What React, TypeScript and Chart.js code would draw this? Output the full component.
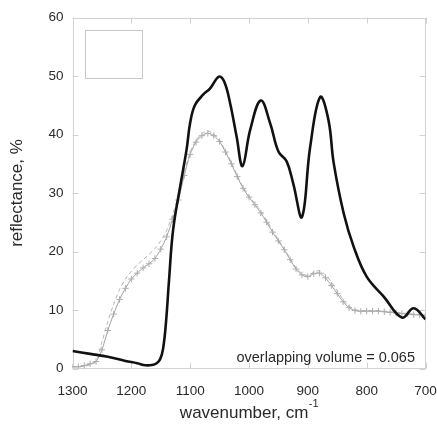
import React, { useEffect, useRef } from "react";
import { Chart, registerables } from "chart.js";

Chart.register(...registerables);

// tick values
const xTicks = [1300, 1200, 1100, 1000, 900, 800, 700];
const yTicks = [0, 10, 20, 30, 40, 50, 60];

// measured spectrum (black)
const measuredWn = [1300, 1270, 1240, 1210, 1190, 1176, 1165, 1157, 1151, 1146, 1141, 1136, 1129, 1117, 1106, 1100, 1092, 1078, 1066, 1051, 1042, 1032, 1021, 1011, 998, 980, 964, 950, 936, 925, 910, 896, 879, 865, 856, 839, 822, 800, 771, 740, 720, 700];
const measuredR = [3.0, 2.5, 2.0, 1.3, 0.9, 0.55, 0.6, 0.9, 1.6, 3.4, 8.0, 15.0, 23.7, 31.1, 37.5, 42.0, 45.0, 46.8, 47.9, 49.9, 49.0, 45.3, 39.6, 34.6, 40.8, 45.8, 41.9, 37.1, 35.4, 31.7, 25.9, 37.9, 46.4, 42.5, 35.1, 26.5, 20.8, 15.7, 12.3, 8.7, 10.3, 8.4];

// calculated spectra (grey)
const calcWn = [1300, 1290, 1280, 1270, 1260, 1250, 1240, 1230, 1220, 1210, 1200, 1190, 1180, 1170, 1160, 1150, 1140, 1130, 1120, 1110, 1100, 1090, 1080, 1070, 1060, 1050, 1040, 1030, 1020, 1010, 1000, 990, 980, 970, 960, 950, 940, 930, 920, 910, 900, 890, 880, 870, 860, 850, 840, 830, 820, 810, 800, 790, 780, 770, 760, 750, 740, 730, 720, 710, 700];
const calcSolid = [0.3, 0.3, 0.5, 0.8, 1.2, 3.2, 6.5, 9.3, 11.8, 13.7, 15.3, 16.3, 17.2, 17.9, 18.8, 20.4, 22.5, 25.5, 28.8, 33.0, 36.6, 38.7, 39.8, 40.2, 39.8, 38.8, 37.0, 35.0, 32.8, 30.8, 29.3, 28.0, 26.6, 25.0, 23.3, 21.8, 20.3, 18.6, 17.0, 16.0, 15.7, 16.2, 16.3, 15.5, 14.2, 12.8, 11.4, 10.4, 9.9, 9.8, 9.8, 9.8, 9.8, 9.7, 9.6, 9.5, 9.4, 9.3, 9.2, 9.2, 9.1];
const calcDashed = [0.3, 0.3, 0.4, 0.6, 1.2, 4.5, 8.0, 11.0, 13.5, 15.3, 16.6, 17.7, 18.6, 19.5, 20.5, 21.8, 23.6, 26.3, 29.5, 33.5, 37.0, 39.0, 40.2, 40.6, 40.1, 39.0, 37.2, 35.2, 33.0, 31.0, 29.5, 28.2, 26.9, 25.3, 23.6, 22.0, 20.4, 18.8, 17.2, 16.2, 15.9, 16.5, 16.7, 16.0, 14.8, 13.3, 11.8, 10.7, 10.1, 9.9, 9.9, 9.9, 9.9, 9.8, 9.7, 9.6, 9.5, 9.4, 9.3, 9.3, 9.3];

const annotation = "overlapping volume = 0.065";
const xTitle = "wavenumber, cm";
const xTitleSup = "-1";
const yTitle = "reflectance, %";

const FONT = "'Liberation Sans', Arial, Helvetica, sans-serif";
const TEXT = "#2a2a2a";

const framePlugin = {
  id: "frame",
  beforeDatasetsDraw(chart: any) {
    const { ctx, chartArea: a, scales } = chart;
    ctx.save();
    ctx.strokeStyle = "#d2d2d2";
    ctx.lineWidth = 1;
    ctx.strokeRect(Math.round(a.left) + 0.5, Math.round(a.top) + 0.5, Math.round(a.right - a.left) - 1, Math.round(a.bottom - a.top) - 1);
    const tl = 6;
    ctx.beginPath();
    scales.x.ticks.forEach((t: any) => {
      const px = Math.round(scales.x.getPixelForValue(t.value)) + 0.5;
      ctx.moveTo(px, a.bottom);
      ctx.lineTo(px, a.bottom - tl);
      ctx.moveTo(px, a.top);
      ctx.lineTo(px, a.top + tl);
    });
    scales.y.ticks.forEach((t: any) => {
      const py = Math.round(scales.y.getPixelForValue(t.value)) + 0.5;
      ctx.moveTo(a.left, py);
      ctx.lineTo(a.left + tl, py);
      ctx.moveTo(a.right, py);
      ctx.lineTo(a.right - tl, py);
    });
    ctx.stroke();
    // empty legend box
    ctx.strokeStyle = "#c8c8c8";
    ctx.strokeRect(Math.round(a.left + 12) + 0.5, Math.round(a.top + 12.5) + 0.5, 57, 48);
    ctx.restore();
  },
  afterDraw(chart: any) {
    const { ctx, chartArea: a } = chart;
    ctx.save();
    ctx.fillStyle = TEXT;
    ctx.font = `14.5px ${FONT}`;
    ctx.textAlign = "right";
    ctx.textBaseline = "middle";
    ctx.fillText(annotation, a.right - 10.5, a.bottom - 11);
    // x title with superscript
    ctx.font = `17px ${FONT}`;
    const w1 = ctx.measureText(xTitle).width;
    ctx.font = `11px ${FONT}`;
    const w2 = ctx.measureText(xTitleSup).width;
    const cx = (a.left + a.right) / 2;
    const start = cx - (w1 + w2) / 2;
    ctx.textAlign = "left";
    ctx.textBaseline = "alphabetic";
    ctx.font = `17px ${FONT}`;
    ctx.fillText(xTitle, start, 417.5);
    ctx.font = `11px ${FONT}`;
    ctx.fillText(xTitleSup, start + w1 + 0.5, 407);
    ctx.restore();
  },
};

export default function App() {
  const ref = useRef<HTMLCanvasElement>(null);
  useEffect(() => {
    document.body.style.margin = "0";
    const canvas = ref.current!;
    const chart = new Chart(canvas, {
      type: "line",
      data: {
        datasets: [
          {
            label: "measured",
            data: measuredWn.map((x, i) => ({ x, y: measuredR[i] })),
            borderColor: "#111",
            borderWidth: 2.6,
            pointRadius: 0,
            tension: 0.4,
            fill: false,
          },
          {
            label: "calc",
            data: calcWn.map((x, i) => ({ x, y: calcSolid[i] })),
            borderColor: "#a0a0a0",
            borderWidth: 1,
            pointRadius: 3.2,
            pointStyle: "cross",
            pointBorderColor: "#adadad",
            pointBorderWidth: 1,
            tension: 0.3,
            fill: false,
          },
          {
            label: "calc2",
            data: calcWn.map((x, i) => ({ x, y: calcDashed[i] })),
            borderColor: "#b4b4b4",
            borderWidth: 1,
            borderDash: [4, 3],
            pointRadius: 0,
            tension: 0.3,
            fill: false,
          },
        ],
      },
      options: {
        animation: false,
        responsive: false,
        events: [],
        layout: { padding: { top: 17.5, right: 11.5, left: 0, bottom: 0 } },
        plugins: { legend: { display: false }, tooltip: { enabled: false } },
        scales: {
          x: {
            type: "linear",
            reverse: true,
            min: 700,
            max: 1300,
            afterBuildTicks: (s: any) => {
              s.ticks = xTicks.map((v) => ({ value: v }));
            },
            afterFit: (s: any) => {
              s.height = 428 - 368.5;
              s.paddingLeft = 0;
              s.paddingRight = 0;
            },
            grid: { display: false, drawTicks: false },
            border: { display: false },
            ticks: {
              padding: 15,
              color: TEXT,
              font: { family: FONT, size: 13.5 },
              maxRotation: 0,
              autoSkip: false,
              callback: (v: any) => String(v),
            },
          },
          y: {
            type: "linear",
            min: 0,
            max: 60,
            afterBuildTicks: (s: any) => {
              s.ticks = yTicks.map((v) => ({ value: v }));
            },
            afterFit: (s: any) => {
              s.width = 72.5;
              s.paddingTop = 0;
              s.paddingBottom = 0;
            },
            grid: { display: false, drawTicks: false },
            border: { display: false },
            title: {
              display: true,
              text: yTitle,
              color: TEXT,
              font: { family: FONT, size: 17 },
              padding: { top: 7, bottom: 0 },
            },
            ticks: {
              padding: 9,
              color: TEXT,
              font: { family: FONT, size: 13.5 },
              callback: (v: any) => String(v),
            },
          },
        },
      },
      plugins: [framePlugin],
    } as any);
    return () => chart.destroy();
  }, []);
  return <canvas ref={ref} width={437} height={428} style={{ display: "block" }} />;
}
